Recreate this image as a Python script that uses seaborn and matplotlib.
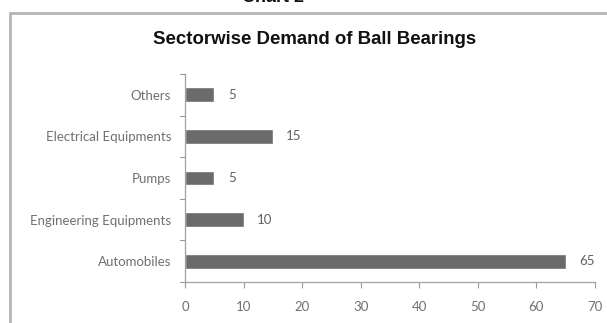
import matplotlib
matplotlib.use("Agg")
import matplotlib.pyplot as plt
from matplotlib.patches import Rectangle
import seaborn as sns
import pandas as pd

categories = ["Others", "Electrical Equipments", "Pumps", "Engineering Equipments", "Automobiles"]
values = [5, 15, 5, 10, 65]
xticks = [0, 10, 20, 30, 40, 50, 60, 70]
title = "Sectorwise Demand of Ball Bearings"
header = "Chart 2"

sns.set_theme(style="white")
plt.rcParams["font.family"] = ["Lato", "DejaVu Sans"]

W, H = 607, 323
fig = plt.figure(figsize=(W / 100, H / 100), dpi=100)
ax = fig.add_axes([185 / W, 1 - 282 / H, (595 - 185) / W, (282 - 74) / H])

df = pd.DataFrame({"cat": categories, "val": values})
sns.barplot(data=df, y="cat", x="val", orient="h", color="#6b6b6b",
            width=0.36, ax=ax, saturation=1)

ax.set_xlim(0, 70)
ax.set_ylim(len(categories) - 0.5, -0.5)
ax.set_xticks(xticks)
ax.set_xticklabels([str(t) for t in xticks], fontsize=9.5, color="#707070")
ax.set_xlabel("")
ax.set_ylabel("")
ax.tick_params(axis="y", labelsize=9.5, labelcolor="#707070", length=0, pad=10)
ax.tick_params(axis="x", length=4, width=0.8, color="#999999", direction="out", pad=10,
               bottom=True)
# category boundary ticks (Excel style)
for b in [i - 0.5 for i in range(len(categories) + 1)]:
    ax.plot([-0.012, 0], [b, b], transform=ax.get_yaxis_transform(), color="#999999",
            lw=0.8, clip_on=False)

for s in ["top", "right"]:
    ax.spines[s].set_visible(False)
for s in ["left", "bottom"]:
    ax.spines[s].set_color("#a0a0a0")
    ax.spines[s].set_linewidth(0.9)

for i, v in enumerate(values):
    ax.text(v + 2.3, i, str(v), va="center", ha="left", fontsize=9.5, color="#606060")

fig.text(315 / W, 1 - 40 / H, title, ha="center", va="center", fontsize=13.4,
         fontweight="bold", family="Liberation Sans", color="#111111")
fig.text(273 / W, 1 + 2.5 / H, header, ha="center", va="center", fontsize=13,
         fontweight="bold", family="Liberation Sans", color="#111111")

fig.patches.append(Rectangle((10 / W, -0.05), 1.0, 1 - 13 / H + 0.05,
                             transform=fig.transFigure, fill=False,
                             edgecolor="#b5b5b5", lw=2))

fig.savefig("out.png", dpi=100)
